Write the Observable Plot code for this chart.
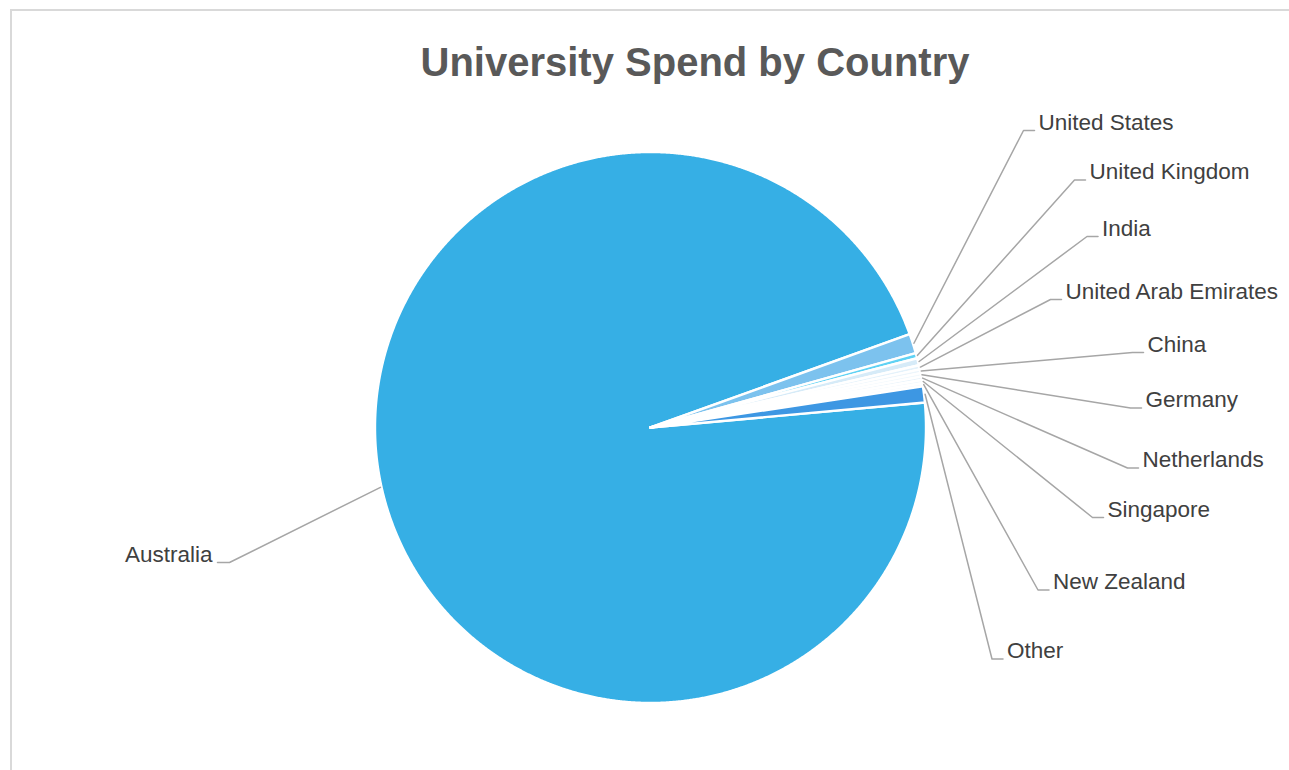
<!DOCTYPE html>
<html>
<head>
<meta charset="utf-8">
<script src="https://cdn.jsdelivr.net/npm/d3@7"></script>
<script src="https://cdn.jsdelivr.net/npm/@observablehq/plot@0.6"></script>
<style>
  html, body { margin: 0; padding: 0; background: #ffffff; }
  body { width: 1289px; height: 770px; overflow: hidden; position: relative; font-family: Arial, "Liberation Sans", sans-serif; }
  #frame { position: absolute; left: 10px; top: 9px; width: 1400px; height: 820px; border-left: 2px solid #d9d9d9; border-top: 2px solid #d9d9d9; box-sizing: border-box; }
  #title { position: absolute; left: 10px; width: 1370px; top: 42px; height: 40px; line-height: 40px; text-align: center; font-size: 40px; font-weight: bold; color: #595959; white-space: nowrap; }
  #chart { position: absolute; left: 0; top: 100px; }
</style>
</head>
<body>
<div id="frame"></div>
<div id="title">University Spend by Country</div>
<div id="chart"></div>
<script>
// ---- data ----
const countries = ["Australia", "United States", "United Kingdom", "India", "United Arab Emirates", "China", "Germany", "Netherlands", "Singapore", "New Zealand", "Other"];
const spendShare = [95.9, 1.14, 0.31, 0.42, 0.24, 0.22, 0.21, 0.2, 0.19, 0.18, 0.94];
const sliceColors = ["#36afe5", "#7cc2ee", "#5fd2f4", "#d6ebf8", "#e4f2fb", "#edf6fc", "#f2f9fd", "#e8f3fb", "#eff7fd", "#f5fafe", "#3d97e3"];

// ---- layout (page pixels) ----
const W = 1289, H = 670, TOP = 100;
const cx = 650, cy = 427, R = 275.5;
const startDeg = 84.8; // first slice starts here, clockwise from 12 o'clock
// label text anchor x, baseline y, side
const labelX = [212, 1038, 1089, 1101.5, 1065, 1147, 1145, 1142, 1107, 1052.5, 1006.5];
const labelBase = [562, 130, 179.5, 236, 299, 352, 407.5, 467.5, 517, 589.5, 658.5];
const labelSide = ["left", "right", "right", "right", "right", "right", "right", "right", "right", "right", "right"];

const rows = countries.map((c, i) => ({country: c, value: spendShare[i]}));
const arcs = d3.pie().value(d => d.value).sort(null)
  .startAngle(startDeg * Math.PI / 180)
  .endAngle(startDeg * Math.PI / 180 + 2 * Math.PI)(rows);

const px = (a, r) => cx + r * Math.sin(a);
const py = (a, r) => cy - r * Math.cos(a);

// wedge polygons
const wedgePts = [];
arcs.forEach(a => {
  const c = a.data.country;
  wedgePts.push({country: c, x: cx, y: cy});
  const n = Math.max(2, Math.ceil((a.endAngle - a.startAngle) / 0.004));
  for (let k = 0; k <= n; k++) {
    const t = a.startAngle + (a.endAngle - a.startAngle) * k / n;
    wedgePts.push({country: c, x: px(t, R), y: py(t, R)});
  }
  wedgePts.push({country: c, x: cx, y: cy});
});

// leader lines
const leaderPts = [];
const labels = [];
arcs.forEach((a, i) => {
  const c = a.data.country;
  const mid = (a.startAngle + a.endAngle) / 2;
  const lx = labelX[i], ly = labelBase[i];
  const left = labelSide[i] === "left";
  const e0 = left ? lx + 17 : lx - 15;
  const e1 = left ? lx + 5 : lx - 4;
  leaderPts.push({country: c, x: px(mid, R * 1.004), y: py(mid, R * 1.004)});
  leaderPts.push({country: c, x: e0, y: ly});
  leaderPts.push({country: c, x: e1, y: ly});
  labels.push({country: c, x: lx, y: ly, side: labelSide[i]});
});

const font = "Arial, 'Liberation Sans', sans-serif";
const chart = Plot.plot({
  width: W,
  height: H,
  margin: 0,
  style: {background: "transparent", fontFamily: font, overflow: "visible"},
  x: {domain: [0, W], range: [0, W], axis: null},
  y: {domain: [TOP, TOP + H], range: [0, H], axis: null},
  color: {domain: countries, range: sliceColors},
  marks: [
    Plot.line(wedgePts, {x: "x", y: "y", z: "country", fill: "country", stroke: "#ffffff", strokeWidth: 2.4, strokeLinejoin: "round", curve: "linear"}),
    Plot.line(leaderPts, {x: "x", y: "y", z: "country", stroke: "#a6a6a6", strokeWidth: 1.5, curve: "linear"}),
    Plot.text(labels.filter(d => d.side === "right"), {x: "x", y: "y", text: "country", textAnchor: "start", lineAnchor: "middle", dy: -8, fontSize: 22.5, fill: "#404040", fontFamily: font}),
    Plot.text(labels.filter(d => d.side === "left"), {x: "x", y: "y", text: "country", textAnchor: "end", lineAnchor: "middle", dy: -8, fontSize: 22.5, fill: "#404040", fontFamily: font})
  ]
});
document.getElementById("chart").appendChild(chart);
</script>
</body>
</html>
